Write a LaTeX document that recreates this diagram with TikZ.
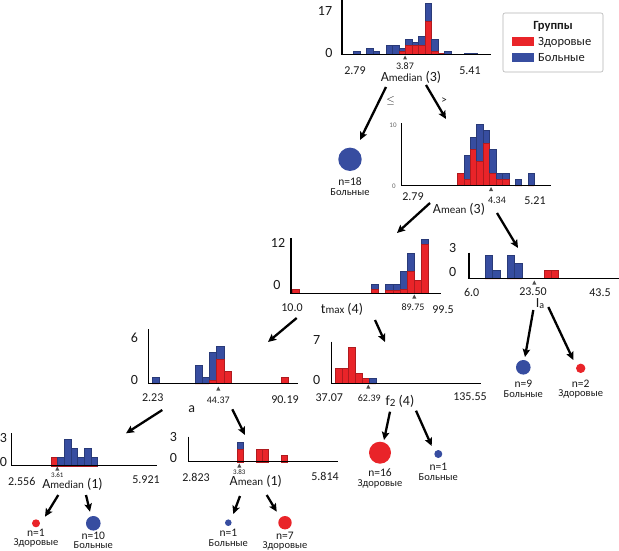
\documentclass[tikz,border=0pt]{standalone}
\usepackage{fontspec}
\setmainfont{Carlito}
\usetikzlibrary{arrows.meta}
\definecolor{healthy}{RGB}{233,36,41}
\definecolor{sick}{RGB}{55,77,160}
\newcommand{\fs}[1]{\fontsize{#1}{#1}\selectfont}

% histogram: axis x, base y, axis end x, axis top y, first bin x, bin width, unit, bins (bin/total/red)
\newcommand{\histo}[8]{%
  \foreach \bi/\nb/\nr in {#8}
  {
    \filldraw[bar, fill=sick, draw=sick!75!black] ({#5+\bi*#6},#2) rectangle ({#5+(\bi+1)*#6},{#2-\nb*#7});
    \filldraw[bar, fill=healthy, draw=healthy!75!black] ({#5+\bi*#6},#2) rectangle ({#5+(\bi+1)*#6},{#2-\nr*#7});
  }
  \draw[axisline] (#1,#4) -- (#1,#2) -- (#3,#2);
}

\begin{document}
\begin{tikzpicture}[x=1pt,y=-1pt,
    every node/.style={inner sep=0pt, text=black!90},
    bar/.style={line width=.25pt},
    axisline/.style={line width=1.5pt, line join=miter},
    arr/.style={line width=2.3pt, -{Stealth[length=8pt,width=7.5pt,inset=1.5pt]}},
    cnt/.style={font=\fs{14}},
    cntsmall/.style={font=\fs{7}, text=black!60},
    tick/.style={font=\fs{12}, text height=8pt, text depth=0pt},
    tickval/.style={font=\fs{10}, text height=7pt, text depth=0pt},
    tickvalsmall/.style={font=\fs{7}},
    split/.style={font=\fs{14}, text height=9pt, text depth=2pt},
    leafn/.style={font=\fs{11.5}, text height=8pt, text depth=0pt},
    leafc/.style={font=\fs{10.5}, text height=7pt, text depth=1.5pt},
    splitmark/.style={fill=black!70}]

  \useasboundingbox (0,0) rectangle (619,551);

  % draw the histograms
  \histo{342}{54.5}{491}{0}{353.3}{6.5}{3.05}{0/1/0, 2/2/0, 3/1/0, 5/3/0, 6/3/0, 7/2/1, 8/5/3, 9/4/3, 10/6/3, 11/17/11, 12/5/1, 13/0.5/0.5, 14/1/0, 17/0.5/0, 18/0.5/0}
  \histo{401.7}{185.5}{551}{123}{457.3}{6.42}{6.1}{0/2/2, 1/5/1, 2/8/6, 3/10/4, 4/9/7, 5/6/2, 6/2/1, 7/2/1, 9/1/0, 11/2/0}
  \histo{291}{293.3}{441}{238}{292.3}{7.17}{4.5}{0/1/1, 11/2/1, 13/2/0.7, 14/2/0.7, 15/5/1, 16/9/5, 17/3/3, 18/12/11}
  \histo{469}{278.5}{619}{252.7}{485}{7.33}{7.9}{0/3/0, 1/1/0, 3/3/0, 4/2/0, 8/1/1, 9/1/1}
  \histo{148.3}{383.5}{297.7}{329.3}{151.7}{7.2}{6.2}{0/1/0, 6/3/0, 7/1/0, 8/5/0.5, 9/6/4, 10/2/2, 18/1/1}
  \histo{11.7}{465.7}{157}{433.3}{50.7}{6.67}{8.9}{0/1/1, 1/1/0, 2/3/0, 3/2/0, 4/1/0, 5/2/0, 6/1/0}
  \histo{188.3}{461.7}{338.3}{436.7}{236.7}{6.33}{6.5}{0/3/2, 3/2/2, 4/2/2, 7/1/1}
  \histo{331.7}{383.5}{480.7}{341.7}{335}{6.8}{5.14}{0/3/3, 1/3/3, 2/7/7, 3/2/2, 4/1/1, 5/1/0}

  % counts on the y axes
  \foreach \px/\py/\txt [count=\i] in {325/11/17, 329/53/0, 278/243/12, 277/285/0,
      452.7/248/3, 452.7/271.7/0, 134.3/338.3/6, 134.3/380/0, 3.5/438.3/3, 3.5/461.7/0,
      173.3/436.7/3, 173.3/458.3/0, 316.7/340/7, 316.7/380/0}
    \node[cnt] (cnt\i) at (\px,\py) {\txt};
  \node[cntsmall] (cnttop) at (393,125) {10};
  \node[cntsmall] (cntzero) at (394,186) {0};

  % range labels
  \foreach \px/\py/\txt [count=\i] in {355/71/2.79, 470/71/5.41, 413/196/2.79, 535/200/5.21,
      292/307/10.0, 443/309/99.5, 471.7/292.7/6.0, 533/291/23.50, 600/292.7/43.5,
      152.7/397.3/2.23, 285/399.3/90.19, 21.7/481.7/2.556, 146/479/5.921,
      196/477.7/2.823, 325/476.7/5.814, 329.3/397.3/37.07, 470/396.7/135.55}
    \node[tick] (rng\i) at (\px,\py) {\txt};

  % split values with their marks
  \foreach \px/\py/\txt [count=\i] in {405/66/3.87, 497/200/4.34, 413/307/89.75, 218.3/400/44.37, 369.3/398.3/62.39}
    \node[tickval] (val\i) at (\px,\py) {\txt};
  \node[tickvalsmall] (valsmall1) at (57.3,475) {3.61};
  \node[tickvalsmall] (valsmall2) at (239.3,471.7) {3.83};
  \foreach \mx/\my in {405/57.5, 491/189, 414.3/296.5, 534.3/282.5, 218.3/388.5, 57.3/468.5, 239.3/465.5, 368.3/386.5}
    \fill[splitmark] ({\mx-2},{\my+2}) -- ({\mx+2},{\my+2}) -- (\mx,{\my-2}) -- cycle;

  % split variables
  \foreach \px/\py/\txt [count=\i] in {411/78/A{\fs{11}median} (3), 459/210/A{\fs{11}mean} (3),
      342/310/t{\fs{11}max} (4), 540/304/I\raisebox{-1pt}{\fs{10}a}, 191.7/409.3/a,
      72.5/485/A{\fs{11}median} (1), 255.8/482.3/A{\fs{11}mean} (1), 400/401.7/f\raisebox{-1.5pt}{\fs{11}2} (4)}
    \node[split] (var\i) at (\px,\py) {\txt};
  \node[font=\fs{11}] (le) at (390.7,100.7) {$\le$};
  \node[font=\fs{11}] (gt) at (444,100.7) {>};

  % connectors
  \foreach \nm/\sx/\sy/\ex/\ey in {rootl/386/87/360/140, rootr/426/85/446/119,
      meanl/430/203/397/233, meanr/497/213/518/248, tmaxl/296.7/318/268/342, tmaxr/375/320/385/342,
      ial/533.3/310/525/357, iar/548.3/307/573.3/360, al/162.3/410/126/433.3, ar/232.3/409.3/245/435,
      medl/58.3/495/45/516.7, medr/86/495/90/511.7, amnl/240/496/233.3/514, amnr/266.7/495/276.7/511.7,
      ftwol/390/411.7/384/440, ftwor/416/410.7/431.7/446}
  {
    \coordinate (\nm-s) at (\sx,\sy);
    \coordinate (\nm-e) at (\ex,\ey);
    \draw[arr] (\nm-s) -- (\nm-e);
  }

  % leaves
  \foreach \nm/\cx/\cy/\dm/\col/\cls/\nn/\ny in {l18/350/159.3/23.4/sick/Больные/18/181.5,
      l9/523.3/367.3/14.6/sick/Больные/9/383.5, l2/580.7/368.3/9.4/healthy/Здоровые/2/383,
      l1a/36/523.3/8/healthy/Здоровые/1/532, l10/93.3/523.3/14.6/sick/Больные/10/535,
      l1b/228.3/522.7/6.6/sick/Больные/1/532.5, l7/285/522.7/13.4/healthy/Здоровые/7/535,
      l16/380/452.7/22/healthy/Здоровые/16/472.5, l1c/438.3/454/8/sick/Больные/1/466.5}
  {
    \node[circle, fill=\col, minimum size=\dm pt] (\nm) at (\cx,\cy) {};
    \node[leafn] (\nm-n) at (\cx,\ny) {n=\nn};
    \node[leafc] (\nm-c) at (\cx,{\ny+11}) {\cls};
  }

  % legend
  \node[draw=black!30, line width=.6pt, rounded corners=2pt, minimum width=100pt, minimum height=59pt] (legend) at (553,42.5) {};
  \node[font=\bfseries\fs{12.5}] (legtitle) at (553,26) {Группы};
  \node[fill=healthy, minimum width=22pt, minimum height=9pt] (keyh) at (523,41.5) {};
  \node[fill=sick, minimum width=22pt, minimum height=9pt] (keys) at (523,57.5) {};
  \node[anchor=west, font=\fs{12.5}] (keyhtxt) at (538,42) {Здоровые};
  \node[anchor=west, font=\fs{12.5}] (keystxt) at (538,57.5) {Больные};

\end{tikzpicture}
\end{document}
